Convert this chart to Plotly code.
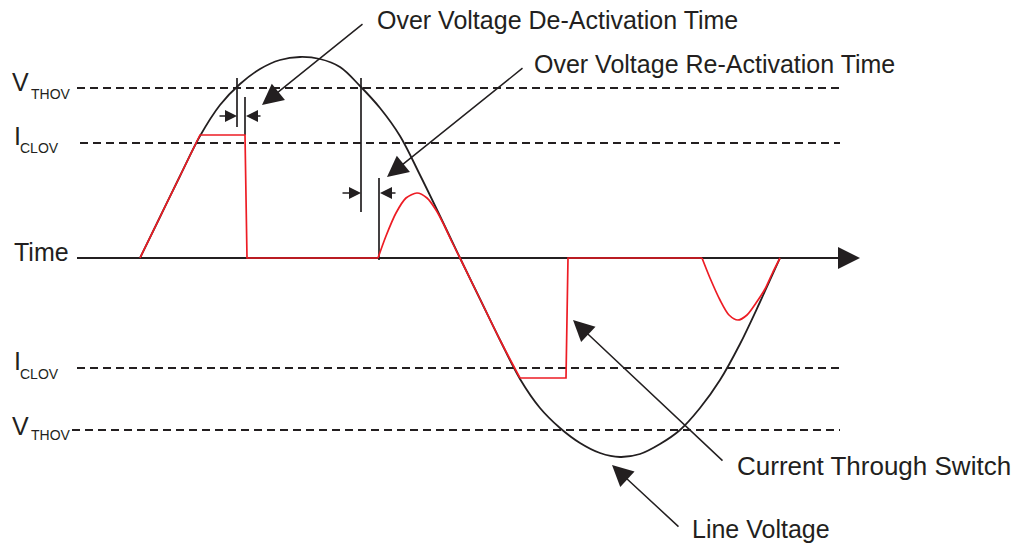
import plotly.graph_objects as go

# ---- data (time in px-like units, amplitude relative to the time axis) ----
line_t = [140, 160, 180, 200, 220, 240, 260, 280, 300, 320, 340, 360, 380, 400, 420, 440, 460,
          480, 500, 520, 540, 560, 580, 600, 620, 640, 660, 680, 700, 720, 740, 760, 780]
line_v = [0, 41, 82, 122, 153, 174, 189, 198, 201, 199, 191, 172, 150, 122, 83, 42, 0,
          -41, -82, -121, -150, -170, -185, -195, -199, -196, -186, -172, -150, -122, -86, -44, 0]

cur1_t = [140, 160, 180, 200, 245, 247, 378]
cur1_v = [0, 41, 82, 123, 123, 0, 0]
cur2_t = [378, 386, 396, 406, 417, 427, 436, 444, 452, 460, 480, 500, 520]
cur2_v = [0, 22, 45, 60, 65, 60, 48, 33, 16, 0, -41, -82, -120]
cur3_t = [520, 566, 568, 702]
cur3_v = [-120, -120, 0, 0]
cur4_t = [702, 710, 720, 729, 738, 747, 756, 765, 772, 780]
cur4_v = [0, -20, -42, -57, -62, -57, -45, -31, -16, 0]

levels = [170, 115, -110, -172]
level_start = [77, 80, 77, 72]
level_end = 840

axis_start, axis_end, axis_tip = 77, 840, 860

marker_t = [237, 245, 361, 379]
marker_top = [180, 161, 180, 80]
marker_bot = [131, 123, 46, -2]

small_arrows = [  # (tail_t, tip_t, level)
    (218, 237, 142), (262, 246, 142), (341, 361, 65), (397, 380, 65)]

callouts = ["Over Voltage De-Activation Time", "Over Voltage Re-Activation Time",
            "Current Through Switch", "Line Voltage"]
callout_text_t = [375, 532, 735, 690]
callout_text_v = [238, 194, -208, -271]
callout_size = [25, 25, 26, 25]
callout_tail = [(364, 235), (524, 191), (724, -204), (680, -270)]
callout_tip = [(262, 153), (387, 81), (573, -62), (612, -207)]

main_labels = ["V", "I", "I", "V", "Time"]
main_label_t = [10, 12, 12, 10, 12]
main_label_v = [176, 122, -103, -168, 6]
sub_labels = ["THOV", "CLOV", "CLOV", "THOV"]
sub_label_t = [29, 18, 18, 29]
sub_label_v = [164, 110, -116, -177]

INK = "#231f20"
RED = "#ed1c24"
FONT = "Liberation Sans, Arial, sans-serif"

fig = go.Figure()

for lv, ls in zip(levels, level_start):
    fig.add_trace(go.Scatter(x=[ls, level_end], y=[lv, lv], mode="lines",
                             line=dict(color=INK, width=2, dash="8px,5px"), hoverinfo="skip"))

fig.add_trace(go.Scatter(x=[axis_start, axis_end], y=[0, 0], mode="lines",
                         line=dict(color=INK, width=2), hoverinfo="skip"))

for t, a, b in zip(marker_t, marker_top, marker_bot):
    fig.add_trace(go.Scatter(x=[t, t], y=[a, b], mode="lines",
                             line=dict(color=INK, width=1.7), hoverinfo="skip"))

fig.add_trace(go.Scatter(x=line_t, y=line_v, mode="lines",
                         line=dict(color=INK, width=1.8, shape="spline", smoothing=1.0), hoverinfo="skip"))

fig.add_trace(go.Scatter(x=cur1_t, y=cur1_v, mode="lines", line=dict(color=RED, width=1.7), hoverinfo="skip"))
fig.add_trace(go.Scatter(x=cur2_t, y=cur2_v, mode="lines",
                         line=dict(color=RED, width=1.7, shape="spline", smoothing=0.8), hoverinfo="skip"))
fig.add_trace(go.Scatter(x=cur3_t, y=cur3_v, mode="lines", line=dict(color=RED, width=1.7), hoverinfo="skip"))
fig.add_trace(go.Scatter(x=cur4_t, y=cur4_v, mode="lines",
                         line=dict(color=RED, width=1.7, shape="spline", smoothing=0.8), hoverinfo="skip"))

ann = []
# time axis arrow head
ann.append(dict(x=axis_tip, y=0, ax=axis_end - 5, ay=0, xref="x", yref="y", axref="x", ayref="y",
                text="", showarrow=True, arrowhead=2, arrowsize=2.2, arrowwidth=2, arrowcolor=INK, standoff=0))
for tail, tip, lv in small_arrows:
    ann.append(dict(x=tip, y=lv, ax=tail, ay=lv, xref="x", yref="y", axref="x", ayref="y",
                    text="", showarrow=True, arrowhead=2, arrowsize=1.6, arrowwidth=1.5, arrowcolor=INK, standoff=0))
for (tt, tv), (pt, pv) in zip(callout_tail, callout_tip):
    ann.append(dict(x=pt, y=pv, ax=tt, ay=tv, xref="x", yref="y", axref="x", ayref="y",
                    text="", showarrow=True, arrowhead=2, arrowsize=2.8, arrowwidth=1.5, arrowcolor=INK, standoff=0))
for txt, t, v, s in zip(callouts, callout_text_t, callout_text_v, callout_size):
    ann.append(dict(x=t, y=v, xref="x", yref="y", text=txt, showarrow=False, xanchor="left", yanchor="middle",
                    font=dict(family=FONT, size=s, color=INK)))
for txt, t, v in zip(main_labels, main_label_t, main_label_v):
    ann.append(dict(x=t, y=v, xref="x", yref="y", text=txt, showarrow=False, xanchor="left", yanchor="middle",
                    font=dict(family=FONT, size=25, color=INK)))
for txt, t, v in zip(sub_labels, sub_label_t, sub_label_v):
    ann.append(dict(x=t, y=v, xref="x", yref="y", text=txt, showarrow=False, xanchor="left", yanchor="middle",
                    font=dict(family=FONT, size=14, color=INK)))

fig.update_layout(
    width=1014, height=544, margin=dict(l=0, r=0, t=0, b=0),
    paper_bgcolor="white", plot_bgcolor="white", showlegend=False,
    xaxis=dict(range=[0, 1014], visible=False, fixedrange=True),
    yaxis=dict(range=[-286, 258], visible=False, fixedrange=True),
    annotations=ann,
)

fig.write_html("out.html", config={"displayModeBar": False},
               post_script="document.body.style.margin='0';document.body.style.overflow='hidden';")
